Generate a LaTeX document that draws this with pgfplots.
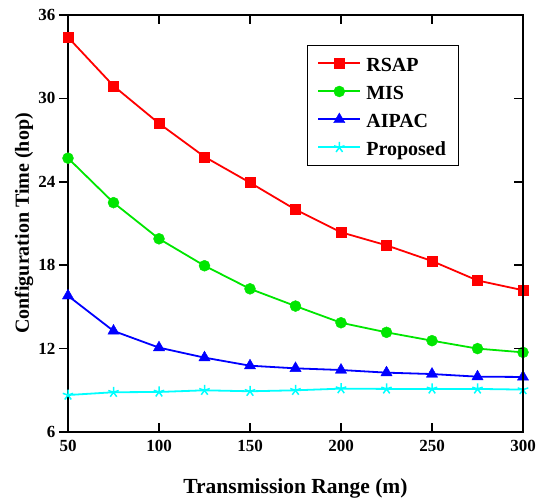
\documentclass[border=0pt]{standalone}
\usepackage{fontspec}
\setmainfont{Liberation Serif}
\usepackage{pgfplots}
\pgfplotsset{compat=1.18}

\pgfplotstableread{
x    rsap  mis   aipac proposed
50   34.4  25.7  15.8  8.66
75   30.9  22.5  13.27 8.86
100  28.2  19.9  12.07 8.88
125  25.8  17.96 11.35 9.00
150  23.94 16.3  10.77 8.93
175  22.0  15.06 10.58 9.00
200  20.37 13.86 10.46 9.12
225  19.43 13.17 10.27 9.10
250  18.3  12.57 10.17 9.10
275  16.9  12.0  9.98  9.10
300  16.2  11.73 9.96  9.05
}\datatable

\definecolor{cRSAP}{RGB}{255,0,0}
\definecolor{cMIS}{RGB}{0,230,0}
\definecolor{cAIPAC}{RGB}{0,0,255}
\definecolor{cProp}{RGB}{0,255,255}

\begin{document}
\begin{tikzpicture}
\pgfplotsset{
  common/.style={
    scale only axis,
    width=455pt, height=417pt,
    xmin=50, xmax=300, ymin=6, ymax=36,
    xtick={50,100,...,300},
    ytick={6,12,...,36},
    axis line style={line width=1.6pt},
    major tick length=9pt,
    tick style={line width=1.6pt, black},
    /pgf/number format/assume math mode=true,
    ticklabel style={font=\fontsize{17}{17}\selectfont\bfseries},
  }
}
\begin{axis}[
  common,
  xtick pos=both,
  xtick align=inside,
  ytick pos=left,
  ytick align=outside,
  xlabel={Transmission Range (m)},
  ylabel={Configuration Time (hop)},
  every axis x label/.style={at={(axis description cs:0.5,0)}, yshift=-56pt,
    anchor=center, font=\fontsize{21.5}{21.5}\selectfont\bfseries},
  every axis y label/.style={at={(axis description cs:0,0.5)}, xshift=-44pt,
    anchor=center, rotate=90, font=\fontsize{20}{20}\selectfont\bfseries},
  xticklabel style={yshift=-5pt},
  legend style={
    at={(0.525,0.928)}, anchor=north west,
    draw=black, line width=0.9pt,
    font=\fontsize{20}{21}\selectfont\bfseries,
    nodes={text height=20pt, text depth=4pt, inner sep=2pt},
    row sep=0pt, column sep=3pt, inner xsep=10pt, inner ysep=4pt,
    cells={anchor=west},
  },
  legend image code/.code={
    \draw[line width=2pt, mark repeat=2, mark phase=2]
      plot coordinates {(0pt,0pt) (21pt,0pt) (42pt,0pt)};
  },
  every axis plot/.append style={line width=1.8pt},
]
\addplot[cRSAP, mark=square*, mark size=5pt, mark options={line width=0.4pt}] table[x=x,y=rsap] {\datatable};
\addlegendentry{RSAP}
\addplot[cMIS, mark=*, mark size=5.5pt, mark options={line width=0.4pt}] table[x=x,y=mis] {\datatable};
\addlegendentry{MIS}
\addplot[cAIPAC, mark=triangle*, mark size=6.5pt, mark options={line width=0.4pt}] table[x=x,y=aipac] {\datatable};
\addlegendentry{AIPAC}
\addplot[cProp, mark=star, mark size=5.5pt, mark options={line width=1.5pt}] table[x=x,y=proposed] {\datatable};
\addlegendentry{Proposed}
\coordinate (boxSW) at (rel axis cs:0,0);
\coordinate (boxNE) at (rel axis cs:1,1);
\end{axis}
% right-hand ticks point into the plot area
\begin{axis}[
  common,
  axis x line=none,
  axis y line*=right,
  ytick align=inside,
  yticklabels={},
]
\end{axis}
\pgfresetboundingbox
\path[use as bounding box] ([xshift=-68pt,yshift=-69pt]boxSW) rectangle ([xshift=17pt,yshift=15pt]boxNE);
\end{tikzpicture}
\end{document}
